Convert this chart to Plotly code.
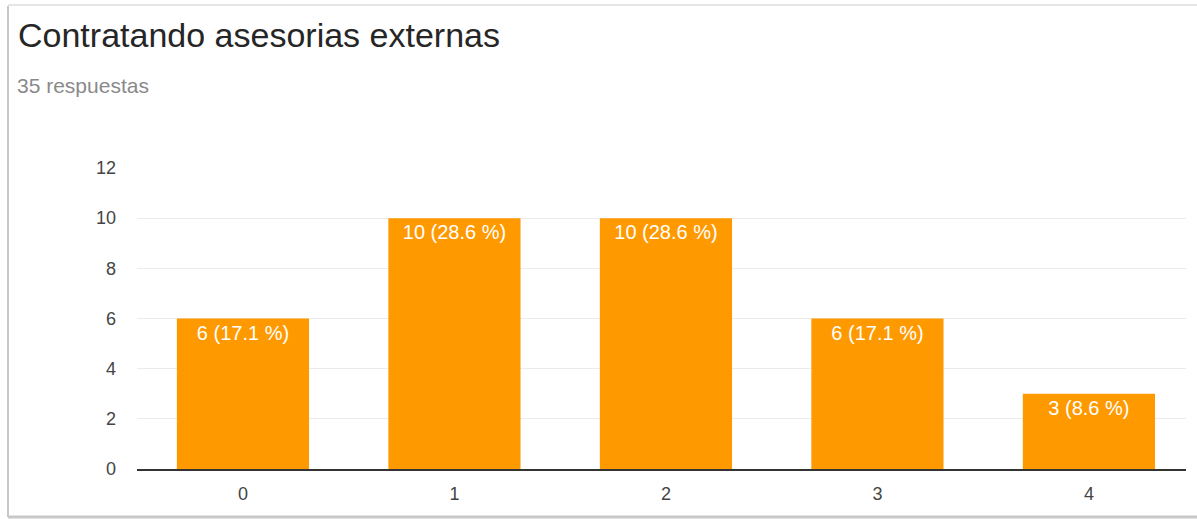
import plotly.graph_objects as go

categories = ["0", "1", "2", "3", "4"]
values = [6, 10, 10, 6, 3]
total_responses = 35
y_ticks = [0, 2, 4, 6, 8, 10, 12]
title_text = "Contratando asesorias externas"
subtitle_text = "35 respuestas"

labels = [f"{v} ({v / total_responses * 100:.1f} %)" for v in values]

W, H = 1197, 519
L, R, T, B = 137, 1186, 168, 469
FONT = "Arial, 'Liberation Sans', sans-serif"


def px(x):
    return (x - L) / (R - L)


def py(y):
    return (B - y) / (B - T)


fig = go.Figure(
    go.Bar(
        x=list(range(len(categories))),
        y=values,
        text=labels,
        textposition="inside",
        insidetextanchor="end",
        textangle=0,
        textfont=dict(family=FONT, size=20, color="#ffffff"),
        marker=dict(color="#ff9900", line=dict(width=0)),
        width=0.625,
        hoverinfo="skip",
    )
)

fig.update_layout(
    width=W,
    height=H,
    margin=dict(l=L, r=W - R, t=T, b=H - B, pad=0),
    paper_bgcolor="#ffffff",
    plot_bgcolor="#ffffff",
    showlegend=False,
    font=dict(family=FONT, color="#444444"),
    uniformtext=dict(mode="show", minsize=10),
)

fig.update_xaxes(
    range=[-0.501, 4.459],
    tickmode="array",
    tickvals=list(range(len(categories))),
    ticktext=categories,
    tickfont=dict(size=18, color="#444444"),
    showgrid=False,
    zeroline=False,
    showline=True,
    linecolor="#333333",
    linewidth=1.5,
    ticks="",
    ticklabelstandoff=8,
)

fig.update_yaxes(
    range=[0, 12],
    tickmode="array",
    tickvals=y_ticks,
    tickfont=dict(size=18, color="#444444"),
    showgrid=True,
    gridcolor="#ebebeb",
    gridwidth=1,
    zeroline=False,
    showline=False,
    ticks="",
    ticklabelstandoff=20,
)

annotations = [
    dict(
        text=title_text,
        x=px(16),
        y=py(35),
        xref="paper",
        yref="paper",
        xanchor="left",
        yanchor="middle",
        showarrow=False,
        font=dict(family=FONT, size=34, color="#262626"),
    ),
    dict(
        text=subtitle_text,
        x=px(15),
        y=py(85),
        xref="paper",
        yref="paper",
        xanchor="left",
        yanchor="middle",
        showarrow=False,
        font=dict(family=FONT, size=21, color="#8a8a8a"),
    ),
]
fig.update_layout(annotations=annotations)

shapes = [
    # left frame edge (shadow)
    dict(type="line", xref="paper", yref="paper", x0=px(8), x1=px(8), y0=py(6), y1=py(517),
         line=dict(color="#c8c8c8", width=2)),
    # top frame edge
    dict(type="line", xref="paper", yref="paper", x0=px(8), x1=px(1197), y0=py(5), y1=py(5),
         line=dict(color="#e6e6e6", width=2)),
    # bottom frame edge
    dict(type="line", xref="paper", yref="paper", x0=px(8), x1=px(1197), y0=py(517), y1=py(517),
         line=dict(color="#c8c8c8", width=3)),
]
fig.update_layout(shapes=shapes)

fig.write_html("out.html")
